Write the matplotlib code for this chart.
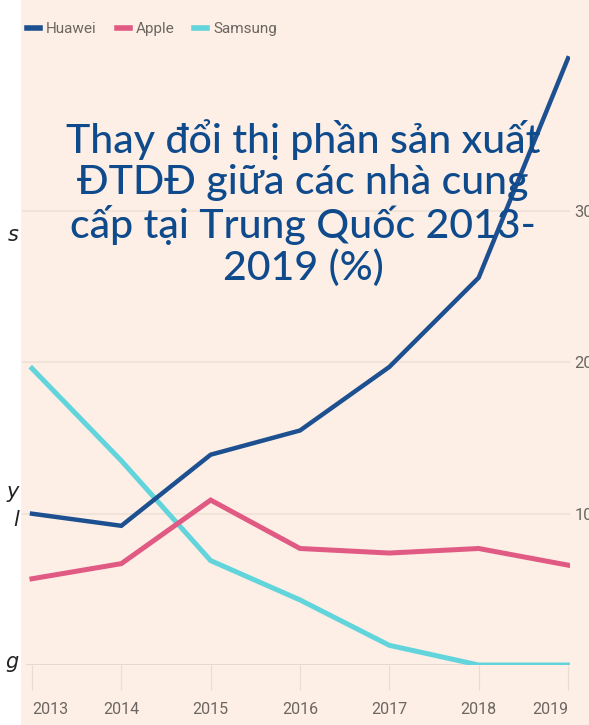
# Market share of smartphone vendors in China, 2013-2019
import matplotlib.pyplot as plt
from matplotlib.lines import Line2D
from matplotlib.patches import Rectangle

# data (%)
years = [2013, 2014, 2015, 2016, 2017, 2018, 2019]
huawei = [10.0, 9.2, 13.9, 15.5, 19.7, 25.6, 40.1]
apple = [5.7, 6.7, 10.9, 7.7, 7.4, 7.7, 6.6]
samsung = [19.6, 13.5, 6.9, 4.3, 1.3, 0.0, 0.0]
y_ticks = [10, 20, 30]
series_names = ['Huawei', 'Apple', 'Samsung']

title = 'Thay đổi thị phần sản xuất\nĐTDĐ giữa các nhà cung\ncấp tại Trung Quốc 2013-\n2019 (%)'

# colours
bg = '#fdefe5'
c_huawei = '#1d5090'
c_apple = '#e05a84'
c_samsung = '#62d4dc'
grey_txt = '#6b6661'

W, H = 589, 725
fig = plt.figure(figsize=(W / 100, H / 100), dpi=100, facecolor=bg)

# white strip on the far left (cropped page)
fig.patches.append(Rectangle((0, 0), 21 / W, 1, transform=fig.transFigure,
                             facecolor='white', edgecolor='none', zorder=0))

# axes: left 22px, right 570px, baseline at 665px, top at 30px
ax = fig.add_axes([22 / W, (H - 665) / H, (570 - 22) / W, (665 - 30) / H])
ax.set_facecolor('none')
ax.set_xlim(2013 - 10 / 89.33, 2019 + 2 / 89.33)
ax.set_ylim(0, (665 - 30) / 15.13)

for s in ax.spines.values():
    s.set_visible(False)

# gridlines
for t in y_ticks:
    ax.axhline(t, color='#f0e1d6', lw=1.2, zorder=1)
ax.axhline(0, xmin=0.01, xmax=0.99, color='#e6d8cd', lw=1.4, zorder=1)

ax.plot(years, huawei, color=c_huawei, lw=3.2, zorder=3, solid_joinstyle='miter')
ax.plot(years, apple, color=c_apple, lw=3.6, zorder=3, solid_joinstyle='miter')
ax.plot(years, samsung, color=c_samsung, lw=3.6, zorder=2, solid_joinstyle='miter')

narrow = ['Roboto', 'DejaVu Sans']
ax.set_xticks(years)
ax.set_xticklabels([str(y) for y in years], family=narrow, fontsize=11.5, color=grey_txt)
ax.tick_params(axis='x', length=18, width=0.8, color='#eadcd1', pad=9)
xlabels = ax.get_xticklabels()
xlabels[0].set_ha('left')
xlabels[-1].set_ha('right')

ax.yaxis.tick_right()
ax.set_yticks(y_ticks)
ax.set_yticklabels([str(t) for t in y_ticks], family=narrow, fontsize=12, color=grey_txt)
ax.tick_params(axis='y', length=0, pad=3)

# legend
handles = [Line2D([], [], color=c, lw=4) for c in (c_huawei, c_apple, c_samsung)]
leg = fig.legend(handles, series_names, loc='upper left', bbox_to_anchor=(27 / W, 1 - 22 / H),
                 ncol=3, frameon=False, handlelength=0.85, handletextpad=0.4,
                 columnspacing=1.3, borderpad=0, borderaxespad=0,
                 prop={'family': narrow, 'size': 11})
for t in leg.get_texts():
    t.set_color(grey_txt)

# title
fig.text(303 / W, 1 - 203 / H, title, ha='center', va='center', multialignment='center',
         fontsize=29.5, color='#0f4b8c', linespacing=1.12, fontweight='medium',
         family=['Lato', 'Noto Sans', 'DejaVu Sans'])

# cropped fragments of page text on the left edge
for ch, ypx in [('s', 235), ('y', 492), ('l', 520), ('g', 662)]:
    fig.text(19 / W, 1 - ypx / H, ch, ha='right', va='center', fontsize=15,
             style='italic', color='#222222')

fig.savefig('out.png', dpi=100, facecolor=bg)
